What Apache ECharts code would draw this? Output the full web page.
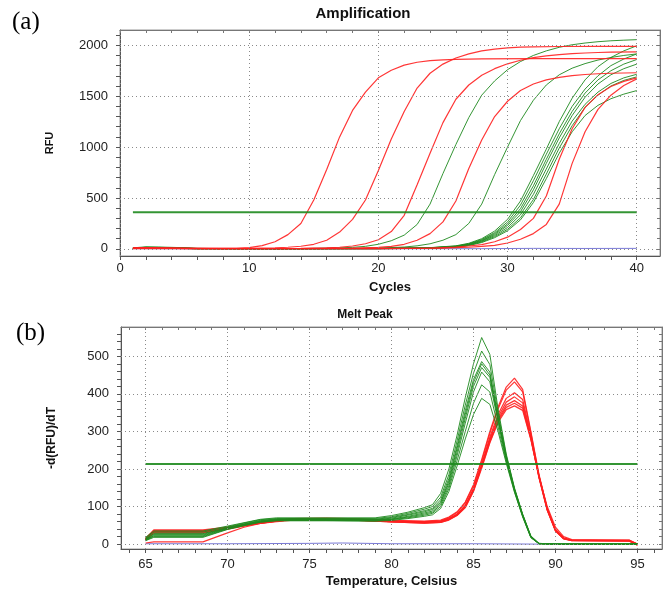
<!DOCTYPE html>
<html>
<head>
<meta charset="utf-8">
<script src="https://cdn.jsdelivr.net/npm/echarts@6/dist/echarts.min.js"></script>
<style>
  html, body { margin: 0; padding: 0; background: #fff; }
  #chart { width: 667px; height: 591px; }
</style>
</head>
<body>
<div id="chart"></div>
<script>
// ---- Amplification (cycle, RFU) ----
var ampRed1 = [[1,10],[2,12],[3,9],[5,6],[7,4],[9,5],[10,12],[11,32],[12,70],[13,140],[14,250],[15,480],[16,780],[17,1100],[18,1360],[19,1540],[20,1680],[21,1755],[22,1805],[23,1833],[24,1849],[25,1857],[26,1862],[28,1866],[32,1868],[40,1868]];
var ampRed2 = [[1,8],[2,10],[4,7],[6,4],[10,5],[12,10],[13,16],[14,26],[15,45],[16,85],[17,165],[18,290],[19,480],[20,770],[21,1080],[22,1350],[23,1580],[24,1725],[25,1815],[26,1875],[27,1915],[28,1945],[29,1962],[30,1974],[31,1981],[32,1985],[34,1988],[37,1990],[40,1990]];
var ampRed3 = [[1,6],[2,8],[4,5],[8,3],[14,5],[16,10],[17,16],[18,28],[19,50],[20,90],[21,170],[22,330],[23,630],[24,940],[25,1240],[26,1470],[27,1610],[28,1705],[29,1770],[30,1818],[31,1853],[32,1878],[33,1896],[34,1908],[35,1917],[36,1924],[37,1929],[38,1932],[40,1935]];
var ampRed4 = [[1,5],[3,6],[6,3],[14,3],[18,8],[20,15],[21,25],[22,45],[23,85],[24,150],[25,265],[26,470],[27,790],[28,1070],[29,1300],[30,1450],[31,1555],[32,1620],[33,1660],[34,1685],[35,1702],[36,1713],[37,1720],[38,1725],[40,1730]];
var ampRed5 = [[1,4],[4,4],[8,2],[20,3],[24,8],[26,18],[27,28],[28,42],[29,70],[30,115],[31,190],[32,300],[33,520],[34,880],[35,1180],[36,1390],[37,1515],[38,1595],[39,1645],[40,1680]];
var ampRed6 = [[1,3],[4,3],[8,1],[20,2],[25,8],[27,16],[28,24],[29,35],[30,58],[31,95],[32,150],[33,240],[34,440],[35,840],[36,1150],[37,1370],[38,1510],[39,1605],[40,1670]];

var ampGreen1 = [[1,10],[2,20],[3,18],[4,15],[5,11],[6,5],[8,2],[14,3],[17,10],[18,15],[19,25],[20,45],[21,80],[22,135],[23,240],[24,440],[25,740],[26,1025],[27,1290],[28,1510],[29,1650],[30,1760],[31,1840],[32,1900],[33,1945],[34,1980],[35,2005],[36,2022],[37,2035],[38,2044],[39,2050],[40,2055]];
var ampGreen2 = [[1,8],[2,16],[3,15],[4,12],[5,9],[6,4],[10,2],[18,4],[20,8],[22,18],[23,30],[24,50],[25,85],[26,140],[27,250],[28,440],[29,730],[30,1000],[31,1260],[32,1460],[33,1610],[34,1710],[35,1775],[36,1820],[37,1855],[38,1880],[39,1900],[40,1915]];
var ampGreen3 = [[1,7],[2,15],[3,13],[4,10],[5,7],[6,3],[12,1],[20,4],[24,12],[26,30],[27,55],[28,100],[29,175],[30,290],[31,470],[32,720],[33,980],[34,1250],[35,1480],[36,1660],[37,1790],[38,1880],[39,1945],[40,1995]];
var ampGreen4 = [[1,6],[2,14],[3,12],[4,9],[5,6],[6,3],[12,1],[20,4],[24,11],[26,27],[27,50],[28,92],[29,160],[30,265],[31,430],[32,670],[33,930],[34,1180],[35,1400],[36,1570],[37,1700],[38,1800],[39,1865],[40,1915]];
var ampGreen5 = [[1,5],[2,12],[3,11],[4,8],[5,6],[6,2],[12,1],[20,3],[24,10],[26,25],[27,46],[28,85],[29,150],[30,245],[31,395],[32,620],[33,880],[34,1130],[35,1350],[36,1530],[37,1660],[38,1750],[39,1815],[40,1860]];
var ampGreen6 = [[1,5],[2,12],[3,10],[4,8],[5,5],[6,2],[12,1],[20,3],[24,9],[26,23],[27,43],[28,80],[29,140],[30,230],[31,365],[32,580],[33,840],[34,1090],[35,1310],[36,1490],[37,1620],[38,1710],[39,1770],[40,1815]];
var ampGreen7 = [[1,4],[2,11],[3,10],[4,7],[5,5],[6,2],[12,1],[20,3],[24,8],[26,21],[27,40],[28,74],[29,130],[30,210],[31,335],[32,535],[33,785],[34,1035],[35,1255],[36,1420],[37,1540],[38,1625],[39,1680],[40,1715]];
var ampGreen8 = [[1,4],[2,10],[3,9],[4,7],[5,4],[6,2],[12,1],[20,2],[24,7],[26,19],[27,36],[28,68],[29,120],[30,192],[31,305],[32,485],[33,735],[34,990],[35,1210],[36,1390],[37,1510],[38,1600],[39,1655],[40,1690]];
var ampGreen9 = [[1,3],[2,9],[3,8],[4,6],[5,4],[6,1],[12,1],[20,2],[24,6],[26,17],[27,33],[28,62],[29,110],[30,178],[31,285],[32,455],[33,690],[34,940],[35,1150],[36,1310],[37,1410],[38,1475],[39,1520],[40,1555]];
var ampBlank = [[1,2],[6,1],[12,0],[20,1],[28,2],[32,5],[36,4],[40,5]];
var ampThreshold = [[1,360],[40,360]];

var ampXTicks = [0,2,4,6,8,10,12,14,16,18,20,22,24,26,28,30,32,34,36,38,40];
var ampXLabels = [0,10,20,30,40];
var ampYTicks = [0,100,200,300,400,500,600,700,800,900,1000,1100,1200,1300,1400,1500,1600,1700,1800,1900,2000,2100];
var ampYLabels = [0,500,1000,1500,2000];

// ---- Melt peak (temperature, -d(RFU)/dT) ----
var meltGreen1 = [[65,18],[65.5,35],[68.5,35],[70,48],[71,57],[72,66],[73,70],[76,70],[79,70],[80,76],[81,85],[82,97],[82.5,105],[83,135],[83.5,200],[84,290],[84.5,390],[85,480],[85.5,550],[86,505],[86.5,360],[87,240],[87.5,150],[88,80],[88.5,22],[89,2],[90,0],[95,0]];
var meltGreen2 = [[65,16],[65.5,32],[68.5,32],[70,46],[71,56],[72,65],[73,68],[76,68],[79,68],[80,73],[81,82],[82,93],[82.5,100],[83,125],[83.5,185],[84,275],[84.5,370],[85,455],[85.5,514],[86,478],[86.5,350],[87,236],[87.5,148],[88,79],[88.5,21],[89,2],[90,0],[95,0]];
var meltGreen3 = [[65,14],[65.5,28],[68.5,28],[70,44],[71,54],[72,63],[73,67],[76,67],[79,66],[80,71],[81,79],[82,89],[82.5,95],[83,118],[83.5,175],[84,262],[84.5,355],[85,438],[85.5,486],[86,458],[86.5,340],[87,232],[87.5,146],[88,78],[88.5,20],[89,1],[90,0],[95,0]];
var meltGreen4 = [[65,13],[65.5,26],[68.5,26],[70,43],[71,53],[72,62],[73,66],[76,66],[79,65],[80,69],[81,77],[82,86],[82.5,92],[83,112],[83.5,168],[84,255],[84.5,345],[85,430],[85.5,480],[86,450],[86.5,336],[87,230],[87.5,145],[88,77],[88.5,20],[89,1],[90,0],[95,0]];
var meltGreen5 = [[65,12],[65.5,24],[68.5,24],[70,42],[71,52],[72,61],[73,65],[76,65],[79,64],[80,67],[81,74],[82,83],[82.5,88],[83,110],[83.5,162],[84,245],[84.5,335],[85,420],[85.5,470],[86,444],[86.5,332],[87,228],[87.5,144],[88,76],[88.5,19],[89,1],[90,0],[95,0]];
var meltGreen6 = [[65,11],[65.5,22],[68.5,22],[70,41],[71,51],[72,60],[73,64],[76,64],[79,63],[80,66],[81,72],[82,80],[82.5,85],[83,105],[83.5,155],[84,235],[84.5,322],[85,405],[85.5,458],[86,432],[86.5,325],[87,225],[87.5,143],[88,75],[88.5,18],[89,1],[90,0],[95,0]];
var meltGreen7 = [[65,10],[65.5,20],[68.5,20],[70,40],[71,50],[72,59],[73,63],[76,63],[79,62],[80,65],[81,70],[82,77],[82.5,82],[83,100],[83.5,148],[84,222],[84.5,300],[85,375],[85.5,424],[86,405],[86.5,312],[87,220],[87.5,140],[88,74],[88.5,18],[89,1],[90,0],[95,0]];
var meltGreen8 = [[65,9],[65.5,18],[68.5,18],[70,39],[71,49],[72,58],[73,62],[76,62],[79,61],[80,63],[81,68],[82,74],[82.5,78],[83,95],[83.5,140],[84,208],[84.5,280],[85,345],[85.5,388],[86,372],[86.5,300],[87,215],[87.5,138],[88,72],[88.5,17],[89,1],[90,0],[95,0]];

var meltRed1 = [[65,15],[65.5,38],[68.5,38],[70,45],[71,52],[72,58],[73,64],[74,68],[76,69],[78,67],[80,63],[82,61],[83,64],[83.5,72],[84,86],[84.5,112],[85,158],[85.5,225],[86,300],[86.5,365],[87,418],[87.5,442],[88,412],[88.5,300],[89,185],[89.5,95],[90,38],[90.5,15],[91,11],[94.5,11],[95,0]];
var meltRed2 = [[65,14],[65.5,36],[68.5,36],[70,44],[71,51],[72,58],[73,63],[74,67],[76,68],[78,66],[80,62],[82,60],[83,62],[83.5,70],[84,84],[84.5,110],[85,155],[85.5,220],[86,295],[86.5,360],[87,410],[87.5,432],[88,405],[88.5,296],[89,182],[89.5,93],[90,37],[90.5,15],[91,10],[94.5,10],[95,-2]];
var meltRed3 = [[65,13],[65.5,34],[68.5,34],[70,43],[71,50],[72,57],[73,62],[74,66],[76,67],[78,65],[80,61],[82,59],[83,61],[83.5,68],[84,80],[84.5,104],[85,148],[85.5,212],[86,285],[86.5,345],[87,388],[87.5,403],[88,385],[88.5,290],[89,180],[89.5,92],[90,36],[90.5,14],[91,10],[94.5,9],[95,0]];
var meltRed4 = [[65,12],[65.5,33],[68.5,33],[70,42],[71,50],[72,56],[73,62],[74,66],[76,67],[78,64],[80,60],[82,58],[83,60],[83.5,67],[84,79],[84.5,102],[85,146],[85.5,210],[86,280],[86.5,338],[87,378],[87.5,392],[88,376],[88.5,286],[89,178],[89.5,90],[90,35],[90.5,14],[91,9],[94.5,9],[95,-3]];
var meltRed5 = [[65,12],[65.5,32],[68.5,32],[70,41],[71,49],[72,56],[73,61],[74,65],[76,66],[78,64],[80,60],[82,57],[83,59],[83.5,66],[84,78],[84.5,100],[85,144],[85.5,207],[86,276],[86.5,332],[87,370],[87.5,382],[88,368],[88.5,282],[89,176],[89.5,90],[90,36],[90.5,15],[91,9],[94.5,8],[95,0]];
var meltRed6 = [[65,11],[65.5,30],[68.5,30],[70,40],[71,48],[72,55],[73,60],[74,64],[76,65],[78,63],[80,59],[82,56],[83,58],[83.5,65],[84,77],[84.5,98],[85,142],[85.5,205],[86,272],[86.5,328],[87,364],[87.5,375],[88,362],[88.5,280],[89,178],[89.5,94],[90,40],[90.5,17],[91,10],[94.5,8],[95,-2]];
var meltRed7 = [[65,3],[65.5,6],[68.5,6],[70,30],[71,45],[72,55],[73,61],[74,65],[76,66],[78,63],[80,59],[82,56],[83,58],[83.5,64],[84,76],[84.5,97],[85,140],[85.5,202],[86,270],[86.5,324],[87,358],[87.5,368],[88,356],[88.5,278],[89,180],[89.5,100],[90,45],[90.5,20],[91,12],[94.5,10],[95,0]];
var meltBlank = [[65,1],[70,1],[75,2],[77,3],[80,1],[85,1],[89,0]];
var meltThreshold = [[65,213],[95,213]];

var meltXTicks = [64,65,66,67,68,69,70,71,72,73,74,75,76,77,78,79,80,81,82,83,84,85,86,87,88,89,90,91,92,93,94,95,96];
var meltXLabels = [65,70,75,80,85,90,95];
var meltYTicks = [0,20,40,60,80,100,120,140,160,180,200,220,240,260,280,300,320,340,360,380,400,420,440,460,480,500,520,540,560];
var meltYLabels = [0,100,200,300,400,500];

var RED = "#ff2020";
var GREEN = "#1e8a1e";
var BLUE = "#6a6ad2";
var FONT = "Liberation Sans";

function plain(v) {
    return String(v);
}

function curve(data, color, axis, width) {
    return {
        type: "line",
        data: data,
        xAxisIndex: axis,
        yAxisIndex: axis,
        symbol: "none",
        silent: true,
        animation: false,
        lineStyle: { color: color, width: width || 1, opacity: 0.9 }
    };
}

function gridLines(xs, ys, axis) {
    var marks = xs.map(function (v) { return { xAxis: v }; })
        .concat(ys.map(function (v) { return { yAxis: v }; }));
    return {
        type: "line",
        data: [],
        xAxisIndex: axis,
        yAxisIndex: axis,
        silent: true,
        animation: false,
        z: 1,
        markLine: {
            silent: true,
            animation: false,
            symbol: ["none", "none"],
            label: { show: false },
            lineStyle: { type: [1, 3], color: "#8a8a8a", width: 1 },
            data: marks
        }
    };
}

function mainX(grid, min, max, ticks, labels, name, margin, gap) {
    return {
        gridIndex: grid, type: "value", position: "bottom", min: min, max: max,
        name: name, nameLocation: "middle", nameGap: gap,
        nameTextStyle: { fontFamily: FONT, fontWeight: "bold", fontSize: 13, color: "#111" },
        axisLine: { onZero: false, lineStyle: { color: "#555" } },
        axisTick: { customValues: ticks, length: 4, lineStyle: { color: "#555" } },
        axisLabel: { customValues: labels, formatter: plain, margin: margin, fontFamily: FONT, fontSize: 13, color: "#222" },
        splitLine: { show: false }
    };
}

function mirrorX(grid, min, max, ticks) {
    return {
        gridIndex: grid, type: "value", position: "top", min: min, max: max,
        axisLine: { onZero: false, lineStyle: { color: "#777" } },
        axisTick: { customValues: ticks, inside: true, length: 3, lineStyle: { color: "#777" } },
        axisLabel: { show: false },
        splitLine: { show: false }
    };
}

function mainY(grid, min, max, ticks, labels, name, size, gap) {
    return {
        gridIndex: grid, type: "value", position: "left", min: min, max: max,
        name: name, nameLocation: "middle", nameGap: gap, nameRotate: 90,
        nameTextStyle: { fontFamily: FONT, fontWeight: "bold", fontSize: size, color: "#111" },
        axisLine: { onZero: false, lineStyle: { color: "#555" } },
        axisTick: { customValues: ticks, length: 4, lineStyle: { color: "#555" } },
        axisLabel: { customValues: labels, formatter: plain, margin: 12, fontFamily: FONT, fontSize: 13, color: "#222" },
        splitLine: { show: false }
    };
}

function mirrorY(grid, min, max, ticks) {
    return {
        gridIndex: grid, type: "value", position: "right", min: min, max: max,
        axisLine: { onZero: false, lineStyle: { color: "#777" } },
        axisTick: { customValues: ticks, inside: true, length: 3, lineStyle: { color: "#777" } },
        axisLabel: { show: false },
        splitLine: { show: false }
    };
}

var chart = echarts.init(document.getElementById("chart"));

var series = [
    gridLines(ampXLabels, ampYLabels, 0),
    gridLines(meltXLabels, meltYLabels, 2),
    curve(ampBlank, BLUE, 0),
    curve(ampGreen1, GREEN, 0), curve(ampGreen2, GREEN, 0), curve(ampGreen3, GREEN, 0),
    curve(ampGreen4, GREEN, 0), curve(ampGreen5, GREEN, 0), curve(ampGreen6, GREEN, 0),
    curve(ampGreen7, GREEN, 0), curve(ampGreen8, GREEN, 0), curve(ampGreen9, GREEN, 0),
    curve(ampRed1, RED, 0, 1.2), curve(ampRed2, RED, 0, 1.2), curve(ampRed3, RED, 0, 1.2),
    curve(ampRed4, RED, 0, 1.2), curve(ampRed5, RED, 0, 1.2), curve(ampRed6, RED, 0, 1.2),
    curve(ampThreshold, GREEN, 0, 2),
    curve(meltBlank, BLUE, 2),
    curve(meltRed1, RED, 2, 1.2), curve(meltRed2, RED, 2, 1.2), curve(meltRed3, RED, 2, 1.2),
    curve(meltRed4, RED, 2, 1.2), curve(meltRed5, RED, 2, 1.2), curve(meltRed6, RED, 2, 1.2),
    curve(meltRed7, RED, 2, 1.2),
    curve(meltGreen1, GREEN, 2), curve(meltGreen2, GREEN, 2), curve(meltGreen3, GREEN, 2),
    curve(meltGreen4, GREEN, 2), curve(meltGreen5, GREEN, 2), curve(meltGreen6, GREEN, 2),
    curve(meltGreen7, GREEN, 2), curve(meltGreen8, GREEN, 2),
    curve(meltThreshold, GREEN, 2, 2)
];

chart.setOption({
    animation: false,
    backgroundColor: "#fff",
    grid: [
        { left: 120, top: 30, width: 540, height: 226, show: true, borderColor: "#999", borderWidth: 1 },
        { left: 121, top: 327, width: 541, height: 222, show: true, borderColor: "#999", borderWidth: 1 }
    ],
    xAxis: [
        mainX(0, 0, 41.8, ampXTicks, ampXLabels, "Cycles", 6, 25),
        mirrorX(0, 0, 41.8, ampXTicks),
        mainX(1, 63.5, 96.5, meltXTicks, meltXLabels, "Temperature, Celsius", 9, 26),
        mirrorX(1, 63.5, 96.5, meltXTicks)
    ],
    yAxis: [
        mainY(0, -70, 2150, ampYTicks, ampYLabels, "RFU", 11, 65),
        mirrorY(0, -70, 2150, ampYTicks),
        mainY(1, -13, 578, meltYTicks, meltYLabels, "-d(RFU)/dT", 12, 63),
        mirrorY(1, -13, 578, meltYTicks)
    ],
    graphic: [
        { type: "text", x: 12, y: 22, style: { text: "(a)", font: '25px "Liberation Serif"', fill: "#000", textAlign: "left", textVerticalAlign: "middle" } },
        { type: "text", x: 16, y: 333, style: { text: "(b)", font: '25px "Liberation Serif"', fill: "#000", textAlign: "left", textVerticalAlign: "middle" } },
        { type: "text", x: 363, y: 14, style: { text: "Amplification", font: 'bold 15px "Liberation Sans"', fill: "#111", textAlign: "center", textVerticalAlign: "middle" } },
        { type: "text", x: 365, y: 315, style: { text: "Melt Peak", font: 'bold 12px "Liberation Sans"', fill: "#111", textAlign: "center", textVerticalAlign: "middle" } }
    ],
    series: series
});
</script>
</body>
</html>
